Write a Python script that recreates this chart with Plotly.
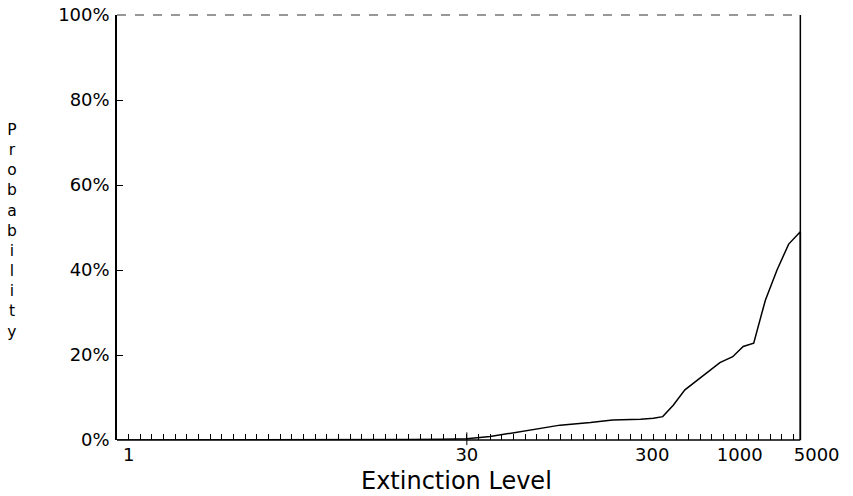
import plotly.graph_objects as go

# Axis slots (evenly spaced extinction-level positions) and probability (%)
slot = [0, 1, 5, 10, 15, 20, 25, 28, 30, 32, 34.8, 36, 38, 40.6, 42, 42.5, 44.9,
        46, 46.8, 47.7, 48.7, 49.6, 50.6, 51.7, 52.8, 53.7, 54.6, 55.6, 56.6,
        57.6, 58.6, 58.6]
probability = [0, 0, 0, 0, 0, 0, 0.1, 0.2, 0.3, 0.8, 2.1, 2.6, 3.5, 4.1, 4.5,
               4.7, 4.9, 5.1, 5.5, 8.2, 11.8, 13.7, 15.8, 18.2, 19.6, 22.0,
               22.8, 32.9, 40.0, 46.1, 49.0, 0]

x_tick_slots = [1, 30, 45.9, 53.4, 60]
x_tick_labels = ["1", "30", "300", "1000", "5000"]
minor_slots = list(range(1, 59))
y_ticks = [0, 20, 40, 60, 80, 100]
y_tick_labels = [f"{v}%" for v in y_ticks]

FONT = "DejaVu Sans"
last_slot = slot[-1]

fig = go.Figure()
fig.add_trace(go.Scatter(
    x=slot, y=probability, mode="lines",
    line=dict(color="black", width=1.5), cliponaxis=False,
    showlegend=False, hoverinfo="skip"))

fig.update_layout(
    width=853, height=496,
    margin=dict(l=117, r=34, t=15, b=56, autoexpand=False),
    paper_bgcolor="white", plot_bgcolor="white",
    font=dict(family=FONT, color="black"),
    xaxis=dict(
        range=[0, 60.2], showline=False, showgrid=False, zeroline=False,
        automargin=False,
        tickmode="array", tickvals=x_tick_slots, ticktext=x_tick_labels,
        ticks="", tickfont=dict(family=FONT, size=18, color="black"),
        ticklabelstandoff=2,
        minor=dict(tickmode="array", tickvals=minor_slots, ticks="inside",
                   ticklen=6, tickwidth=1, tickcolor="black", showgrid=False),
    ),
    yaxis=dict(
        range=[0, 100], showline=True, linecolor="black", linewidth=1.5,
        mirror=False, showgrid=False, zeroline=False, automargin=False,
        tickmode="array", tickvals=y_ticks, ticktext=y_tick_labels,
        ticks="inside", ticklen=6, tickwidth=1, tickcolor="black",
        tickfont=dict(family=FONT, size=18, color="black"),
        ticklabelstandoff=2,
    ),
)

# frame: bottom, right, dashed top, and the long tick at 30
fig.add_shape(type="line", xref="x", yref="paper", x0=0, x1=last_slot, y0=0, y1=0,
              line=dict(color="black", width=1.5))
fig.add_shape(type="line", xref="x", yref="paper", x0=last_slot, x1=last_slot, y0=0, y1=1,
              line=dict(color="black", width=1.5))
fig.add_shape(type="line", xref="x", yref="paper", x0=0, x1=last_slot, y0=1, y1=1,
              line=dict(color="#333333", width=1.2, dash="dash"))
fig.add_shape(type="line", xref="x", yref="paper", x0=x_tick_slots[1], x1=x_tick_slots[1],
              y0=-0.012, y1=0.018, line=dict(color="black", width=1))

fig.add_annotation(text="<br>".join(list("Probability")), xref="paper", yref="paper",
                   x=0, y=0.492, xshift=-105, xanchor="center", yanchor="middle",
                   showarrow=False, font=dict(family=FONT, size=15.5, color="black"))
fig.add_annotation(text="Extinction Level", xref="paper", yref="paper",
                   x=0, y=0, xshift=339, yshift=-41, xanchor="center", yanchor="middle",
                   showarrow=False, font=dict(family=FONT, size=24, color="black"))

fig.write_html("out.html")
